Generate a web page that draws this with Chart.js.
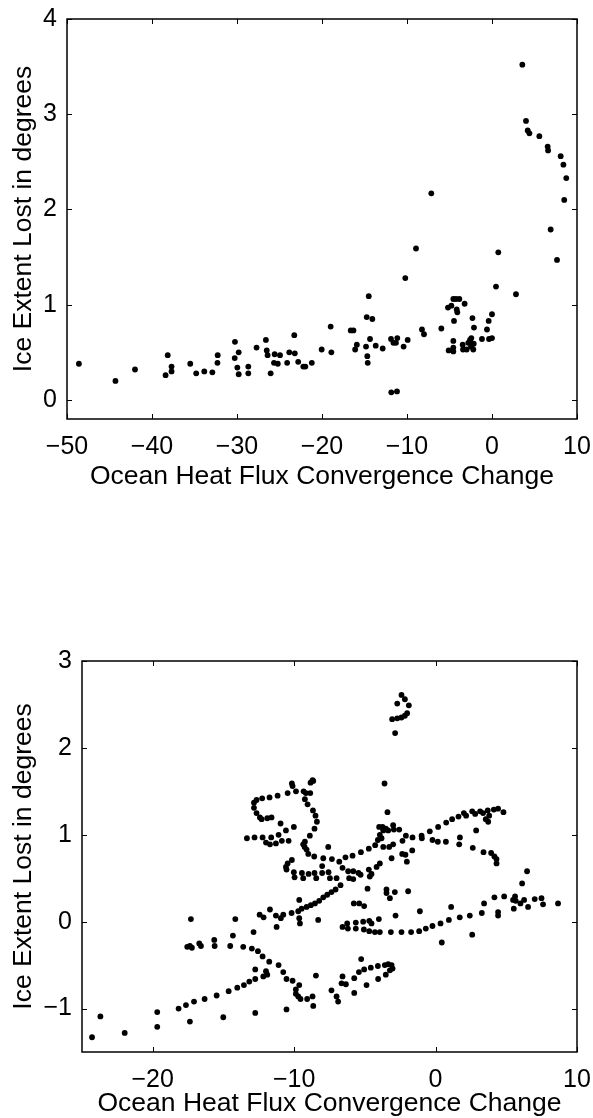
<!DOCTYPE html>
<html>
<head>
<meta charset="utf-8">
<script src="https://cdn.jsdelivr.net/npm/chart.js@4/dist/chart.umd.min.js"></script>
<style>
  html, body { margin: 0; padding: 0; background: #fff; }
  body { width: 593px; height: 1118px; position: relative; overflow: hidden; }
  canvas { position: absolute; left: 0; }
  #top-canvas { top: 0; }
  #bottom-canvas { top: 600px; }
</style>
</head>
<body>
<canvas id="top-canvas" width="593" height="500"></canvas>
<canvas id="bottom-canvas" width="593" height="518"></canvas>
<script>
// axis text
const xTitle = 'Ocean Heat Flux Convergence Change';
const yTitle = 'Ice Extent Lost in degrees';

// top panel ticks
const topXTicks = [-50, -40, -30, -20, -10, 0, 10];
const topYTicks = [0, 1, 2, 3, 4];

// bottom panel ticks
const bottomXTicks = [-20, -10, 0, 10];
const bottomYTicks = [-1, 0, 1, 2, 3];

// top panel points [flux change, ice lost]
const topPoints = [
  [-48.6, 0.38], [-44.3, 0.20], [-42.0, 0.32], [-38.4, 0.26], [-38.15, 0.47], [-37.7, 0.35], [-37.7, 0.30],
  [-35.5, 0.38], [-34.8, 0.28], [-33.85, 0.30], [-32.9, 0.29], [-32.3, 0.39], [-32.27, 0.47], [-30.24, 0.61],
  [-30.27, 0.44], [-29.8, 0.50], [-29.96, 0.34], [-29.8, 0.27], [-28.67, 0.35], [-28.67, 0.28], [-27.7, 0.55],
  [-26.6, 0.63], [-26.5, 0.52], [-26.4, 0.47], [-26.04, 0.28], [-25.57, 0.48], [-24.94, 0.47], [-25.65, 0.39],
  [-25.2, 0.38], [-24.1, 0.39], [-23.85, 0.50], [-23.26, 0.68], [-23.2, 0.49], [-22.8, 0.40], [-21.96, 0.35],
  [-22.2, 0.35], [-21.2, 0.39], [-20.04, 0.53], [-18.98, 0.77], [-18.9, 0.50], [-16.62, 0.73], [-16.3, 0.73],
  [-16.1, 0.53], [-15.9, 0.58], [-14.74, 0.87], [-14.08, 0.85], [-14.5, 1.09], [-14.35, 0.64], [-14.82, 0.56],
  [-14.67, 0.46], [-14.62, 0.39], [-13.68, 0.57], [-12.86, 0.54], [-11.88, 0.64], [-11.6, 0.60], [-11.3, 0.60],
  [-11.14, 0.65], [-10.4, 0.56], [-9.92, 0.63], [-11.85, 0.08], [-11.18, 0.09], [-10.2, 1.28], [-8.94, 1.59],
  [-8.24, 0.74], [-8.0, 0.69], [-7.14, 2.17], [-5.96, 0.75], [-5.18, 0.97], [-4.78, 0.99], [-4.55, 1.06],
  [-4.24, 1.06], [-3.84, 1.06], [-3.22, 1.01], [-4.15, 0.95], [-4.08, 0.92], [-4.47, 0.83], [-4.55, 0.62],
  [-4.55, 0.55], [-5.1, 0.52], [-4.55, 0.51], [-3.45, 0.58], [-3.41, 0.53], [-2.98, 0.53], [-2.79, 0.60],
  [-2.59, 0.63], [-2.43, 0.65], [-2.15, 0.59], [-2.47, 0.56], [-2.2, 0.53], [-2.3, 0.86], [-2.12, 0.76],
  [-1.18, 0.64], [-0.59, 0.74], [-0.39, 0.83], [0.0, 0.90], [-0.35, 0.64], [0.0, 0.65], [0.47, 1.19],
  [0.74, 1.55], [2.82, 1.11], [3.57, 3.52], [4.0, 2.93], [4.2, 2.83], [4.4, 2.80], [5.57, 2.77], [6.55, 2.66],
  [6.6, 2.62], [6.9, 1.79], [7.65, 1.47], [8.08, 2.56], [8.4, 2.47], [8.74, 2.33], [8.5, 2.10]
];

// bottom panel points [flux change, ice lost]
const bottomPoints = [
  // cluster near the top
  [-2.41, 2.61], [-2.17, 2.56], [-2.71, 2.51], [-1.89, 2.49], [-2.01, 2.40], [-2.17, 2.37], [-2.41, 2.35],
  [-2.71, 2.34], [-3.07, 2.33], [-2.86, 2.17], [-3.61, 1.59], [-3.40, 1.26],
  // loop on the left
  [-8.70, 1.63], [-8.84, 1.60], [-8.65, 1.62], [-10.16, 1.59], [-10.11, 1.56], [-9.87, 1.50], [-9.33, 1.50],
  [-9.17, 1.48], [-8.86, 1.48], [-10.46, 1.48], [-11.17, 1.45], [-11.74, 1.43], [-12.26, 1.42], [-12.66, 1.40],
  [-12.84, 1.37], [-12.84, 1.31], [-12.66, 1.25], [-12.42, 1.20], [-12.30, 1.18], [-11.90, 1.19], [-11.60, 1.20],
  [-10.96, 1.13], [-10.02, 1.09], [-10.58, 1.05], [-11.10, 1.00], [-11.62, 0.97], [-12.23, 0.97], [-12.80, 0.97],
  [-13.34, 0.96], [-11.99, 0.91], [-11.71, 0.89], [-11.29, 0.90], [-10.87, 0.93], [-10.39, 0.93],
  [-9.24, 1.41], [-9.05, 1.35], [-8.67, 1.28], [-8.49, 1.22], [-8.39, 1.15], [-8.56, 1.07], [-8.89, 0.99],
  [-9.24, 0.92], [-9.36, 0.89], [-9.26, 0.86], [-9.12, 0.83], [-9.00, 0.78], [-8.58, 0.75], [-7.94, 0.73],
  [-7.59, 0.86], [-7.33, 0.72], [-6.81, 0.69], [-6.37, 0.74], [-5.87, 0.76], [-5.28, 0.80], [-4.72, 0.84],
  [-4.27, 0.88], [-4.08, 0.94],
  [-10.16, 0.71], [-10.46, 0.67], [-10.58, 0.63], [-10.54, 0.60], [-10.02, 0.57], [-9.45, 0.56], [-8.98, 0.55],
  [-8.56, 0.56], [-8.02, 0.56], [-8.02, 0.64], [-7.57, 0.57], [-9.97, 0.51], [-9.36, 0.50], [-8.44, 0.50],
  [-7.47, 0.50], [-7.00, 0.50], [-6.58, 0.62], [-6.18, 0.58], [-5.82, 0.58], [-5.45, 0.56], [-5.30, 0.54],
  [-6.11, 0.50], [-5.82, 0.49], [-4.72, 0.60], [-4.53, 0.55], [-4.65, 0.52], [-4.81, 0.38], [-4.17, 0.63],
  // rising line through the middle
  [-6.72, 0.42], [-7.07, 0.37], [-7.36, 0.34], [-7.66, 0.31], [-7.94, 0.28], [-8.23, 0.24], [-8.53, 0.21],
  [-8.82, 0.19], [-9.12, 0.17], [-9.47, 0.15], [-9.64, 0.25], [-5.78, 0.21], [-5.40, 0.21], [-5.05, 0.18],
  [-11.71, 0.14], [-12.44, 0.08], [-12.16, 0.05], [-11.29, 0.07], [-11.24, -0.06], [-10.94, 0.04],
  [-10.77, 0.08], [-10.18, 0.10], [-9.71, 0.12], [-9.59, -0.02], [-9.64, 0.04], [-8.30, 0.02],
  // upper right arm
  [-3.99, 1.09], [-3.75, 1.09], [-3.52, 1.07], [-3.70, 1.05], [-3.35, 1.05], [-3.00, 1.11], [-2.95, 1.06],
  [-2.57, 1.06], [-3.94, 1.00], [-3.82, 0.96], [-3.70, 0.86], [-3.28, 0.86], [-3.00, 0.89],
  [-2.10, 0.99], [-1.63, 0.97], [-0.99, 0.99], [-0.97, 0.96], [-0.41, 1.04], [0.18, 1.09], [0.75, 1.14],
  [1.17, 1.18], [1.62, 1.21], [2.00, 1.25], [2.16, 1.22], [2.59, 1.27], [2.80, 1.24], [3.15, 1.27],
  [3.36, 1.25], [3.69, 1.28], [3.79, 1.22], [4.12, 1.29], [4.42, 1.30], [4.80, 1.26], [3.55, 1.18],
  [3.72, 1.15], [2.87, 1.05], [-2.34, 0.93], [-1.65, 0.82], [-2.36, 0.78], [-2.13, 0.77], [-3.11, 0.73],
  [-2.03, 0.69], [-0.22, 0.94], [0.16, 0.92], [0.73, 0.92], [1.72, 0.97], [1.67, 0.89], [2.63, 0.85],
  [3.39, 0.80], [3.93, 0.79], [4.16, 0.75], [4.31, 0.72], [4.31, 0.67], [-3.94, 0.67],
  [-3.47, 0.37], [-3.47, 0.33], [-3.23, 0.27], [-2.88, 0.34], [-1.94, 0.35],
  // left arm going down
  [-17.30, 0.03], [-17.56, -0.29], [-17.37, -0.28], [-17.23, -0.30], [-16.71, -0.25], [-16.59, -0.28],
  [-15.65, -0.21], [-15.62, -0.28], [-14.52, -0.28], [-14.33, -0.16], [-14.16, 0.03], [-13.60, -0.29],
  [-12.99, -0.31], [-12.87, -0.12], [-12.56, -0.34], [-12.23, -0.40], [-11.76, -0.46], [-11.10, -0.50],
  [-10.77, -0.58], [-10.54, -0.66], [-10.11, -0.68], [-9.64, -0.73], [-9.88, -0.78], [-9.88, -0.83],
  [-9.71, -0.86], [-9.55, -0.89], [-9.08, -0.89], [-8.70, -0.86], [-8.65, -0.97], [-10.54, -1.01],
  [-8.46, -0.62], [-7.36, -0.79], [-7.00, -0.86], [-6.89, -0.92], [-6.58, -0.63], [-6.65, -0.71],
  [-6.34, -0.72], [-5.75, -0.65], [-5.75, -0.82], [-5.42, -0.58], [-5.05, -0.55], [-4.58, -0.53],
  [-5.26, -0.43], [-4.08, -0.51], [-3.59, -0.50], [-3.35, -0.49], [-3.11, -0.50], [-3.04, -0.54],
  [-3.23, -0.56], [-4.06, -0.66], [-3.52, -0.61], [-4.88, -0.73],
  // long diagonal at the bottom left
  [-24.29, -1.33], [-23.70, -1.09], [-21.98, -1.28], [-19.68, -1.04], [-19.68, -1.21], [-18.17, -1.00],
  [-17.65, -0.96], [-17.08, -0.92], [-16.33, -0.89], [-15.48, -0.85], [-14.63, -0.80], [-14.02, -0.76],
  [-13.55, -0.73], [-13.17, -0.69], [-12.75, -0.66], [-12.18, -0.63], [-11.90, -0.61], [-11.99, -0.57],
  [-12.75, -0.55], [-17.37, -1.15], [-15.01, -1.10], [-12.75, -1.05],
  // middle row and the right tail
  [-6.58, -0.06], [-6.25, -0.02], [-6.20, -0.08], [-5.64, -0.01], [-5.64, -0.08], [-5.12, 0.00],
  [-5.07, -0.09], [-4.69, 0.01], [-4.53, -0.02], [-4.69, -0.11], [-4.29, -0.12], [-4.01, 0.03],
  [-3.94, -0.12], [-3.16, -0.12], [-2.83, 0.07], [-2.41, -0.12], [-1.73, -0.12], [-1.16, -0.11],
  [-1.11, 0.12], [-0.69, -0.08], [-0.22, -0.05], [0.35, -0.02], [0.94, 0.02], [1.10, 0.17], [1.71, 0.05],
  [2.42, 0.07], [0.44, -0.24], [2.59, -0.15],
  [3.27, 0.10], [3.43, 0.21], [4.16, 0.28], [4.42, 0.11], [4.42, 0.07], [4.85, 0.29], [5.48, 0.25],
  [5.53, 0.15], [5.62, 0.29], [5.67, 0.24], [6.00, 0.21], [6.12, 0.44], [6.26, 0.25], [6.47, 0.58],
  [6.54, 0.17], [7.01, 0.26], [7.49, 0.27], [7.60, 0.20], [8.66, 0.21]
];

const fontFamily = '"Liberation Sans", Arial, Helvetica, sans-serif';

// MATLAB style: black box with inward ticks on all four sides
const matlabBox = {
  id: 'matlabBox',
  afterDraw(chart) {
    const { ctx, chartArea: a, scales } = chart;
    const len = 5;
    ctx.save();
    ctx.strokeStyle = '#000';
    ctx.lineWidth = 1;
    ctx.beginPath();
    scales.x.ticks.forEach(t => {
      const px = Math.round(scales.x.getPixelForValue(t.value)) + 0.5;
      ctx.moveTo(px, a.bottom); ctx.lineTo(px, a.bottom - len);
      ctx.moveTo(px, a.top); ctx.lineTo(px, a.top + len);
    });
    scales.y.ticks.forEach(t => {
      const py = Math.round(scales.y.getPixelForValue(t.value)) + 0.5;
      ctx.moveTo(a.left, py); ctx.lineTo(a.left + len, py);
      ctx.moveTo(a.right, py); ctx.lineTo(a.right - len, py);
    });
    ctx.stroke();
    ctx.lineWidth = 1.5;
    ctx.strokeRect(a.left, a.top, a.right - a.left, a.bottom - a.top);
    ctx.restore();
  }
};

function minusSign(v) {
  return String(v).replace('-', '\u2212');
}

function makeChart(canvasId, points, opt) {
  const ctx = document.getElementById(canvasId).getContext('2d');
  return new Chart(ctx, {
    type: 'scatter',
    plugins: [matlabBox],
    data: {
      datasets: [{
        label: 'points',
        data: points.map(p => ({ x: p[0], y: p[1] })),
        pointStyle: 'circle',
        radius: 2.9,
        borderWidth: 0,
        backgroundColor: '#000'
      }]
    },
    options: {
      responsive: false,
      animation: false,
      layout: { padding: opt.padding },
      plugins: {
        legend: { display: false },
        tooltip: { enabled: false }
      },
      scales: {
        x: {
          type: 'linear',
          min: opt.xMin,
          max: opt.xMax,
          afterBuildTicks: axis => axis.ticks = opt.xTicks.map(v => ({ value: v })),
          // fixed box size, and let the end labels hang over the edges like matlab does
          afterFit: axis => {
            axis.height = opt.xAxisHeight;
            axis.paddingLeft = 0;
            axis.paddingRight = 0;
          },
          grid: { display: false, drawTicks: false },
          border: { display: false },
          ticks: {
            padding: 13,
            color: '#000',
            font: { family: fontFamily, size: 25 },
            callback: v => minusSign(v),
            maxRotation: 0
          },
          title: {
            display: true,
            text: xTitle,
            color: '#000',
            font: { family: fontFamily, size: 26.5, lineHeight: 1.1 },
            padding: { top: 0, bottom: opt.xTitlePad }
          }
        },
        y: {
          type: 'linear',
          min: opt.yMin,
          max: opt.yMax,
          afterBuildTicks: axis => axis.ticks = opt.yTicks.map(v => ({ value: v })),
          afterFit: axis => {
            axis.width = opt.yAxisWidth;
            axis.paddingTop = 0;
            axis.paddingBottom = 0;
          },
          grid: { display: false, drawTicks: false },
          border: { display: false },
          ticks: {
            padding: 10,
            color: '#000',
            font: { family: fontFamily, size: 25 },
            callback: v => minusSign(v)
          },
          title: {
            display: true,
            text: yTitle,
            color: '#000',
            font: { family: fontFamily, size: 26.5, lineHeight: 1.1 },
            padding: { top: 9, bottom: 0 }
          }
        }
      }
    }
  });
}

const topChart = makeChart('top-canvas', topPoints, {
  xMin: -50, xMax: 10, yMin: -0.2, yMax: 4,
  xTicks: topXTicks, yTicks: topYTicks,
  padding: { top: 19, right: 16, left: 0, bottom: 0 },
  yAxisWidth: 67, xAxisHeight: 81, xTitlePad: 9
});

const bottomChart = makeChart('bottom-canvas', bottomPoints, {
  xMin: -25, xMax: 10, yMin: -1.5, yMax: 3,
  xTicks: bottomXTicks, yTicks: bottomYTicks,
  padding: { top: 61, right: 16, left: 0, bottom: 0 },
  yAxisWidth: 82, xAxisHeight: 66, xTitlePad: 0
});
</script>
</body>
</html>
